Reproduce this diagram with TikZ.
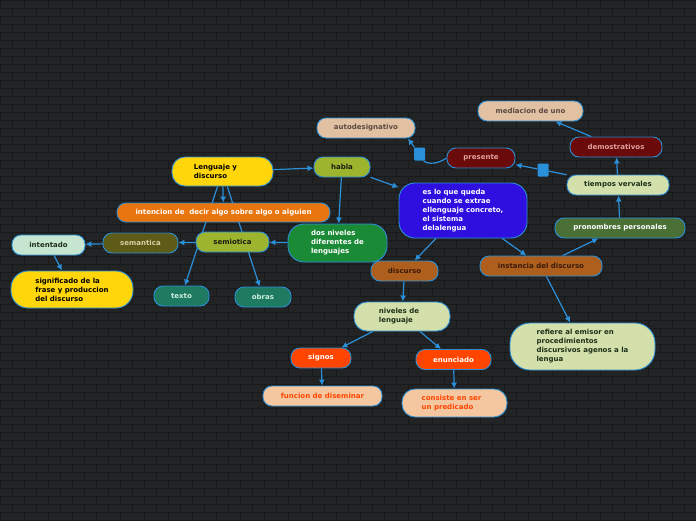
\documentclass[tikz,border=0pt]{standalone}
\usepackage{fontspec}
\setmainfont{DejaVu Sans}
\usetikzlibrary{arrows.meta}
\pgfdeclarelayer{bricks}
\pgfdeclarelayer{under}
\pgfsetlayers{bricks,under,main}
\definecolor{bg}{HTML}{222325}
\definecolor{mortar}{HTML}{18191A}
\definecolor{bord}{HTML}{2B8FD6}
\definecolor{lnk}{HTML}{2B90DA}
\definecolor{cyel}{HTML}{FFD60A}
\definecolor{colive}{HTML}{9DB42E}
\definecolor{corange}{HTML}{E8750E}
\definecolor{csem}{HTML}{5E5B17}
\definecolor{csemt}{HTML}{D8D0A8}
\definecolor{cint}{HTML}{C6E6D2}
\definecolor{cteal}{HTML}{1F7A62}
\definecolor{ctealt}{HTML}{CFEFE0}
\definecolor{cgreen}{HTML}{1A8A36}
\definecolor{cblue}{HTML}{2E0FDF}
\definecolor{cpeach}{HTML}{E2C0A2}
\definecolor{cpeacht}{HTML}{5A4A42}
\definecolor{cred}{HTML}{6B0A0A}
\definecolor{credt}{HTML}{E0A0A0}
\definecolor{clight}{HTML}{D3E0AB}
\definecolor{clightt}{HTML}{1E3018}
\definecolor{cpro}{HTML}{4A7036}
\definecolor{cbrown}{HTML}{AE5F1E}
\definecolor{cbrownt}{HTML}{3A1A08}
\definecolor{corred}{HTML}{FF4500}
\definecolor{csalmon}{HTML}{F5C7A0}
\definecolor{cdark}{HTML}{1A1A10}
\tikzset{
  nb/.style={draw=bord, line width=0.9pt, inner sep=0pt, rounded corners=9pt,
    font=\fontsize{7}{9}\selectfont\bfseries, align=left, minimum height=20pt},
  con/.style={draw=lnk, line width=1.2pt, -{Latex[length=6pt,width=6pt]}},
  sq/.style={fill=lnk, inner sep=0pt, minimum width=11pt, minimum height=13pt, rounded corners=1pt},
}
\begin{document}
\begin{tikzpicture}[x=1pt,y=-1pt]
\useasboundingbox (0,0) rectangle (696,520);
\begin{pgfonlayer}{bricks}
\fill[bg] (0,0) rectangle (696,520);
\foreach \r in {0,...,65}{
  \draw[mortar, line width=0.7pt] (0,\r*8) -- (696,\r*8);
  \pgfmathsetmacro\off{mod(\r,2)*12}
  \foreach \c in {0,24,...,696}{
    \draw[mortar, line width=0.7pt] (\c+\off,\r*8) -- ++(0,8);
  }
}
\end{pgfonlayer}
% nodes
\node[nb, fill=cyel, text=black, minimum width=101pt, minimum height=29pt, rounded corners=13pt] (len) at (222.5,171.5) {Lenguaje y\hspace*{14pt}\\discurso};
\node[nb, fill=colive, text=cdark, minimum width=56pt] (hab) at (342,167) {habla};
\node[nb, fill=corange, text=white, minimum width=213pt, minimum height=19pt] (int) at (223.5,212.5) {intencion de\ \ decir algo sobre algo o alguien};
\node[nb, fill=colive, text=cdark, minimum width=73pt] (smi) at (232.5,242) {semiotica};
\node[nb, fill=csem, text=csemt, minimum width=75pt] (sma) at (140.5,243) {semantica};
\node[nb, fill=cint, text=clightt, minimum width=73pt] (ite) at (48.5,245) {intentado};
\node[nb, fill=cyel, text=black, minimum width=122pt, minimum height=37pt, rounded corners=17pt] (sig) at (72,289.5) {significado de la\\frase y produccion\hspace*{6pt}\\del discurso};
\node[nb, fill=cteal, text=ctealt, minimum width=55pt] (tex) at (181.5,296) {texto};
\node[nb, fill=cteal, text=ctealt, minimum width=56pt] (obr) at (263,297) {obras};
\node[nb, fill=cgreen, text=white, minimum width=99pt, minimum height=38pt, rounded corners=16pt] (dos) at (337.5,243) {dos niveles\\diferentes de\hspace*{5pt}\\lenguajes};
\node[nb, fill=cblue, text=white, minimum width=128pt, minimum height=55pt, rounded corners=16pt] (es) at (463,210.5) {es lo que queda\\cuando se extrae\\ellenguaje concreto,\hspace*{8pt}\\el sistema\\delalengua};
\node[nb, fill=cpeach, text=cpeacht, minimum width=98pt] (aut) at (366,128) {autodesignativo};
\node[nb, fill=cred, text=credt, minimum width=68pt] (pre) at (481,158) {presente};
\node[nb, fill=cpeach, text=cpeacht, minimum width=105pt] (med) at (530.5,111) {mediacion de uno};
\node[nb, fill=cred, text=credt, minimum width=92pt] (dem) at (616,147) {demostrativos};
\node[nb, fill=clight, text=clightt, minimum width=102pt] (tie) at (618,185) {tiempos vervales};
\node[nb, fill=cpro, text=white, minimum width=130pt] (pro) at (620,228) {pronombres personales};
\node[nb, fill=cbrown, text=cbrownt, minimum width=67pt] (dis) at (404.5,271) {discurso};
\node[nb, fill=cbrown, text=cbrownt, minimum width=122pt] (ins) at (541,266) {instancia del discurso};
\node[nb, fill=clight, text=clightt, minimum width=145pt, minimum height=47pt, rounded corners=20pt] (ref) at (582.5,346.5) {refiere al emisor en\\procedimientos\\discursivos agenos a la\\lengua};
\node[nb, fill=clight, text=clightt, minimum width=96pt, minimum height=29pt, rounded corners=13pt] (niv) at (402,316.5) {niveles de\hspace*{6pt}\\lenguaje};
\node[nb, fill=corred, text=white, minimum width=60pt] (sgn) at (321,358) {signos};
\node[nb, fill=corred, text=white, minimum width=75pt] (enu) at (453.5,359.5) {enunciado};
\node[nb, fill=csalmon, text=corred, minimum width=119pt] (fun) at (322.5,396) {funcion de diseminar};
\node[nb, fill=csalmon, text=corred, minimum width=105pt, minimum height=28pt, rounded corners=13pt] (cns) at (454.5,403) {consiste en ser\hspace*{6pt}\\un predicado};
\node[sq] (sqa) at (419.5,154) {};
\node[sq] (sqb) at (543,170) {};
% connectors passing behind nodes
\begin{pgfonlayer}{under}
\draw[con] (len) -- (tex);
\draw[con] (len) -- (obr);
\end{pgfonlayer}
% connectors
\draw[con] (len) -- (hab);
\draw[con] (len) -- (int);
\draw[con] (hab) -- (dos);
\draw[con] (hab) -- (es);
\draw[con] (dos) -- (smi);
\draw[con] (smi) -- (sma);
\draw[con] (sma) -- (ite);
\draw[con] (ite) -- (sig);
\draw[con] (es) -- (dis);
\draw[con] (es) -- (ins);
\draw[con] (dis) -- (niv);
\draw[con] (niv) -- (sgn);
\draw[con] (niv) -- (enu);
\draw[con] (sgn) -- (fun);
\draw[con] (enu) -- (cns);
\draw[con] (ins) -- (ref);
\draw[con] (ins) -- (pro);
\draw[con] (pro) -- (tie);
\draw[con] (tie) -- (dem);
\draw[con] (dem) -- (med);
\draw[con] (tie) -- (sqb) -- (pre);
\draw[con] (pre.west) .. controls (435,166) and (425,163) .. (sqa) -- (aut.-14.7);
\end{tikzpicture}
\end{document}
